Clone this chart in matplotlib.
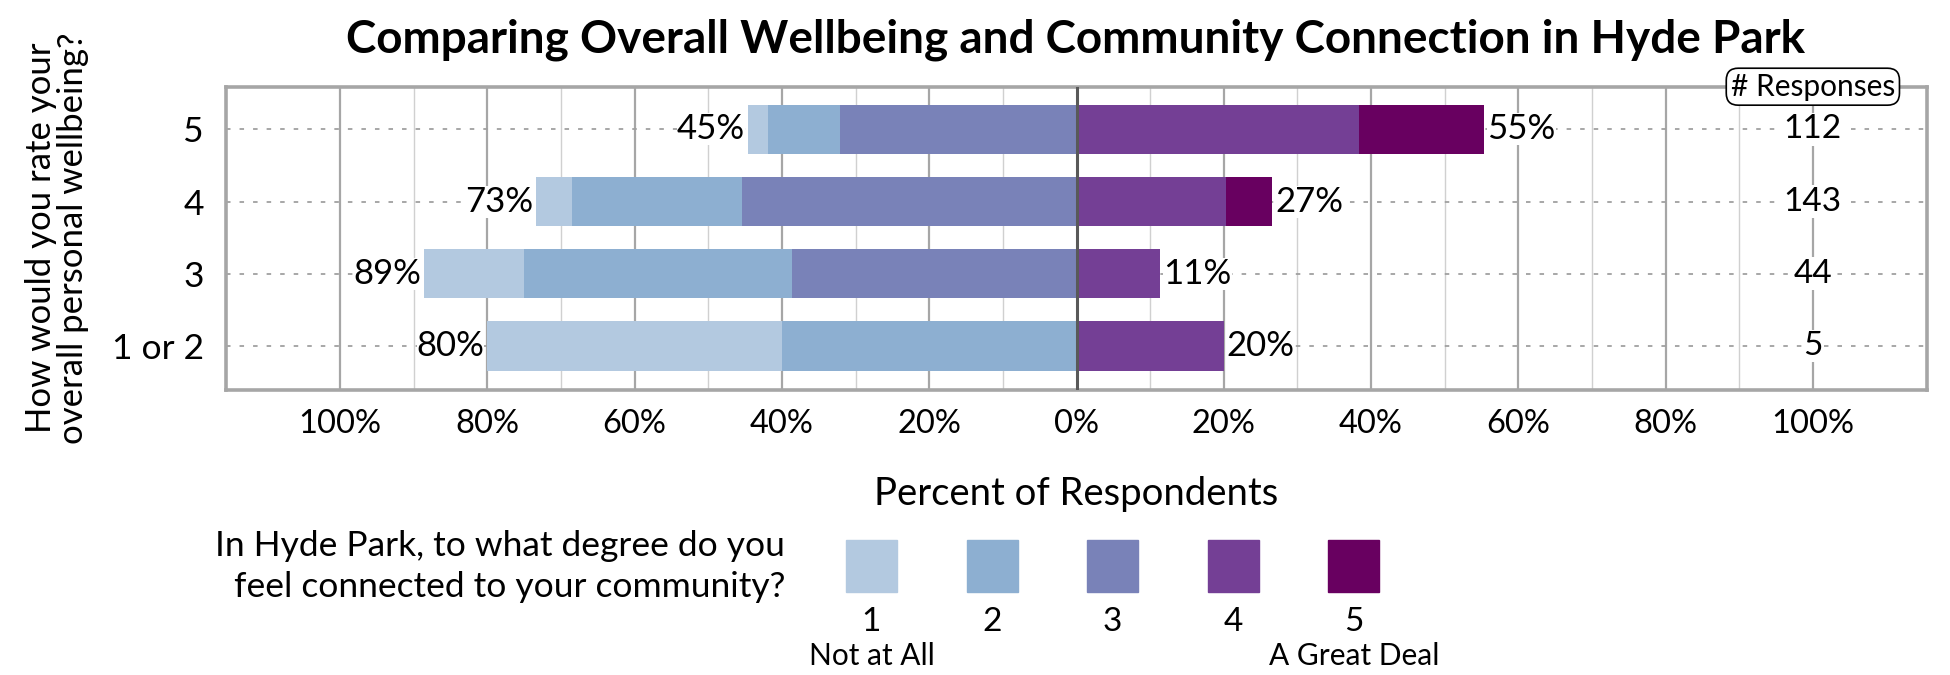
import matplotlib
matplotlib.use("Agg")
import matplotlib.pyplot as plt
from matplotlib.patches import Rectangle
import numpy as np

plt.rcParams['font.family'] = ['Lato', 'DejaVu Sans']

# rows from bottom to top
rows = ['1 or 2', '3', '4', '5']
responses = [5, 44, 143, 112]
# percent of respondents in each connection level (1..5)
level1 = [40.0, 13.6, 4.9, 2.7]
level2 = [40.0, 36.4, 23.1, 9.8]
level3 = [0.0, 38.6, 45.4, 32.1]
level4 = [20.0, 11.4, 20.3, 38.4]
level5 = [0.0, 0.0, 6.3, 17.0]

colors = ['#b3c9e0', '#8dafd1', '#7982b8', '#743f95', '#680060']
level_names = ['1', '2', '3', '4', '5']
ticks = [-100, -80, -60, -40, -20, 0, 20, 40, 60, 80, 100]

W, H = 1950, 675
fig = plt.figure(figsize=(W / 100, H / 100), dpi=100)
ax = fig.add_axes([226 / W, 1 - 390 / H, (1927 - 226) / W, (390 - 86.7) / H])

y = np.arange(len(rows))
h = 0.68
l1 = np.array(level1); l2 = np.array(level2); l3 = np.array(level3)
l4 = np.array(level4); l5 = np.array(level5)

# negative side: 3 next to zero, then 2, then 1
ax.barh(y, -l3, height=h, color=colors[2], zorder=3)
ax.barh(y, -l2, left=-l3, height=h, color=colors[1], zorder=3)
ax.barh(y, -l1, left=-(l3 + l2), height=h, color=colors[0], zorder=3)
ax.barh(y, l4, height=h, color=colors[3], zorder=3)
ax.barh(y, l5, left=l4, height=h, color=colors[4], zorder=3)

neg = l1 + l2 + l3
pos = l4 + l5
for i in range(len(rows)):
    ax.text(-neg[i] - 0.4, y[i], '%d%%' % round(neg[i]), ha='right', va='center',
            fontsize=25, zorder=5,
            bbox=dict(facecolor='white', edgecolor='none', pad=0))
    ax.text(pos[i] + 0.4, y[i], '%d%%' % round(pos[i]), ha='left', va='center',
            fontsize=25, zorder=5,
            bbox=dict(facecolor='white', edgecolor='none', pad=0))
    ax.text(100, y[i], str(responses[i]), ha='center', va='center', fontsize=24,
            zorder=5, bbox=dict(facecolor='white', edgecolor='none', pad=1))
    ax.axhline(y[i], color='#a0a0a0', lw=1.3, ls=(0, (2.5, 5)), zorder=1)

ax.text(100, 3.59, '# Responses', ha='center', va='center', fontsize=21.5, zorder=6,
        bbox=dict(boxstyle='round,pad=0.15,rounding_size=0.4', facecolor='white',
                  edgecolor='black', lw=1.2))

# grid lines
for v in range(-100, 101, 10):
    if v == 0:
        continue
    if v % 20 == 0:
        ax.axvline(v, color='#a6a6a6', lw=1.6, zorder=0)
    else:
        ax.axvline(v, color='#d0d0d0', lw=1.0, zorder=0)
ax.axvline(0, color='#595959', lw=2.2, zorder=4)

ax.set_xlim(-115.5, 115.5)
ax.set_ylim(-0.61, 3.59)
ax.set_yticks(y)
ax.set_yticklabels(rows, fontsize=25.5)
ax.set_xticks(ticks)
ax.set_xticklabels(['%d%%' % abs(t) for t in ticks], fontsize=23.5)
ax.tick_params(length=0)
ax.tick_params(axis='x', pad=14)
ax.tick_params(axis='y', pad=16)
for s in ax.spines.values():
    s.set_color('#a6a6a6')
    s.set_linewidth(2.6)

fig.text(1076 / W, 1 - 40 / H, 'Comparing Overall Wellbeing and Community Connection in Hyde Park',
         ha='center', va='center', fontsize=33, fontweight='bold')
fig.text(57 / W, 1 - 238 / H, 'How would you rate your\noverall personal wellbeing?',
         ha='center', va='center', rotation=90, fontsize=25, linespacing=1.0)
fig.text(1076 / W, 1 - 494 / H, 'Percent of Respondents', ha='center', va='center', fontsize=27.5)

# legend
fig.text(785 / W, 1 - 546 / H, 'In Hyde Park, to what degree do you', ha='right', va='center',
         fontsize=25.5)
fig.text(785 / W, 1 - 587 / H, 'feel connected to your community?', ha='right', va='center',
         fontsize=25.5)
for k in range(5):
    x0 = 846 + k * 120.6
    fig.patches.append(Rectangle((x0 / W, 1 - 592 / H), 51 / W, 52 / H,
                                 transform=fig.transFigure, color=colors[k]))
    fig.text((x0 + 25.5) / W, 1 - 622 / H, level_names[k], ha='center', va='center', fontsize=24)
fig.text((846 + 25.5) / W, 1 - 656 / H, 'Not at All', ha='center', va='center', fontsize=21.5)
fig.text((846 + 4 * 120.6 + 25.5) / W, 1 - 656 / H, 'A Great Deal', ha='center', va='center',
         fontsize=21.5)

fig.savefig('out.png', dpi=100)
